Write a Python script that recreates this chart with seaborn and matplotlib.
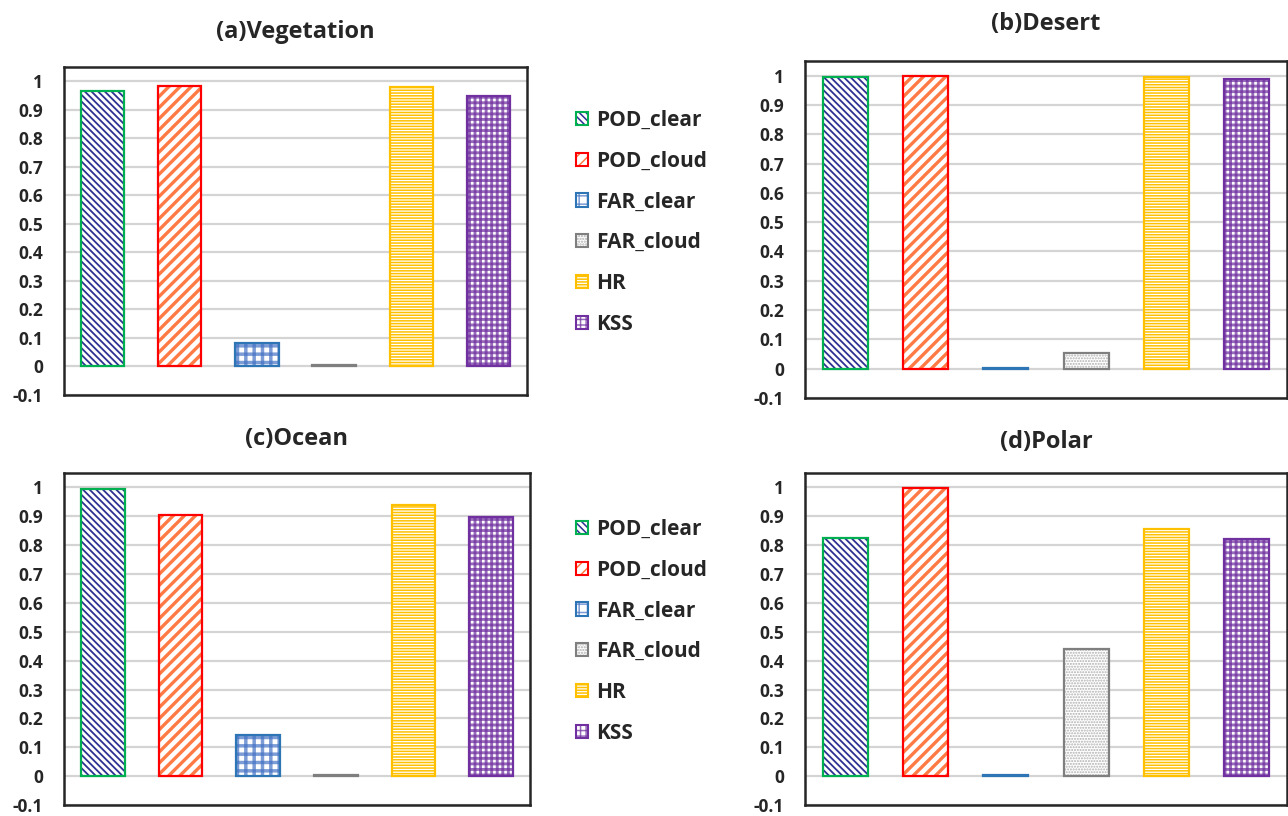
import numpy as np
import pandas as pd
import seaborn as sns
import matplotlib
matplotlib.use("Agg")
import matplotlib.pyplot as plt
from matplotlib.patches import Rectangle, Patch
from matplotlib.colors import to_rgba

# ---------------- data ----------------
metrics = ["POD_clear", "POD_cloud", "FAR_clear", "FAR_cloud", "HR", "KSS"]
titles = ["(a)Vegetation", "(b)Desert", "(c)Ocean", "(d)Polar"]
vegetation = [0.966, 0.983, 0.084, 0.006, 0.980, 0.949]
desert = [0.994, 0.998, 0.003, 0.053, 0.995, 0.989]
ocean = [0.995, 0.904, 0.142, 0.005, 0.938, 0.899]
polar = [0.825, 0.997, 0.003, 0.442, 0.857, 0.821]
ytick_values = [-0.1, 0.0, 0.1, 0.2, 0.3, 0.4, 0.5, 0.6, 0.7, 0.8, 0.9, 1.0]
ytick_labels = ["-0.1", "0", "0.1", "0.2", "0.3", "0.4", "0.5", "0.6", "0.7", "0.8", "0.9", "1"]

# ---------------- styles ----------------
edge_colors = ["#00B050", "#FF0000", "#2E75B6", "#7F7F7F", "#FFC000", "#7030A0"]
hatch_colors = ["#2E3192", "#FF7A45", "#4472C4", "#B0B0B0", "#FFC000", "#7030A0"]
hatch_alpha = [1.0, 1.0, 0.7, 1.0, 1.0, 0.72]
hatches = ["\\\\\\\\\\", "///", "--", "......", "------", "---"]
hatches2 = [None, None, "||", None, None, "|||"]
hatch_widths = [1.3, 2.4, 2.5, 1.0, 1.1, 2.1]

sns.set_theme(style="white")
plt.rcParams["font.family"] = ["Open Sans", "DejaVu Sans"]
plt.rcParams["font.weight"] = "bold"
plt.rcParams["hatch.linewidth"] = 1.1


def set_hw(patch, w):
    if hasattr(patch, "set_hatch_linewidth"):
        patch.set_hatch_linewidth(w)
    else:
        patch._hatch_linewidth = w


fig = plt.figure(figsize=(12.88, 8.16), dpi=100)
W, H = 1288, 816
boxes = [(64, 67, 527, 395), (805, 61, 1287, 398), (64, 473, 530, 805), (805, 473, 1287, 805)]
title_pads = [21, 22, 20, 18]
panel_values = [vegetation, desert, ocean, polar]

for (l, t, r, b), title, vals, pad in zip(boxes, titles, panel_values, title_pads):
    ax = fig.add_axes([l / W, 1 - b / H, (r - l) / W, (b - t) / H])
    df = pd.DataFrame({"metric": metrics, "value": vals})
    sns.barplot(data=df, x="metric", y="value", hue="metric", order=metrics,
                hue_order=metrics, palette=hatch_colors, saturation=1,
                width=0.56, legend=False, ax=ax, zorder=3)
    bars = sorted(ax.patches, key=lambda p: p.get_x())
    for i, p in enumerate(bars):
        hc = to_rgba(hatch_colors[i], hatch_alpha[i])
        p.set_facecolor("white")
        p.set_edgecolor(hc)
        p.set_hatch(hatches[i])
        set_hw(p, hatch_widths[i])
        p.set_linewidth(0)
        p.set_zorder(3)
        geom = ((p.get_x(), p.get_y()), p.get_width(), p.get_height())
        if hatches2[i]:
            extra = Rectangle(*geom, facecolor="none", edgecolor=hc, hatch=hatches2[i],
                              linewidth=0, zorder=3.5)
            set_hw(extra, hatch_widths[i])
            ax.add_patch(extra)
        ax.add_patch(Rectangle(*geom, fill=False, edgecolor=edge_colors[i],
                               linewidth=1.6, zorder=4))
    ax.set_ylim(-0.1, 1.05)
    ax.set_xlim(-0.5, 5.5)
    ax.set_yticks(ytick_values)
    ax.set_yticklabels(ytick_labels)
    ax.set_xticks([])
    ax.set_xlabel("")
    ax.set_ylabel("")
    ax.yaxis.grid(True, color="#D4D4D4", linewidth=1.6, zorder=0)
    ax.set_axisbelow(True)
    ax.tick_params(axis="y", length=0, pad=15, labelsize=12.5)
    for lab in ax.get_yticklabels():
        lab.set_fontweight("bold")
    for s in ax.spines.values():
        s.set_visible(True)
        s.set_color("#262626")
        s.set_linewidth(1.8)
    ax.set_title(title, fontsize=17, fontweight="bold", pad=pad)

handles = []
for i in range(len(metrics)):
    hc = to_rgba(hatch_colors[i], hatch_alpha[i])
    layers = []
    hp = Patch(facecolor="white", edgecolor=hc, hatch=hatches[i], linewidth=0)
    set_hw(hp, hatch_widths[i])
    layers.append(hp)
    if hatches2[i]:
        hp2 = Patch(facecolor="none", edgecolor=hc, hatch=hatches2[i], linewidth=0)
        set_hw(hp2, hatch_widths[i])
        layers.append(hp2)
    layers.append(Patch(facecolor="none", edgecolor=edge_colors[i], linewidth=1.5))
    handles.append(tuple(layers))

for ytop in [91, 500]:
    fig.legend(handles, metrics, loc="upper left",
               bbox_to_anchor=(557 / W, 1 - ytop / H), frameon=False,
               prop={"size": 15, "weight": "bold"}, labelspacing=0.95,
               handlelength=0.6, handleheight=0.6, handletextpad=0.4)

fig.savefig("out.png", dpi=100)
